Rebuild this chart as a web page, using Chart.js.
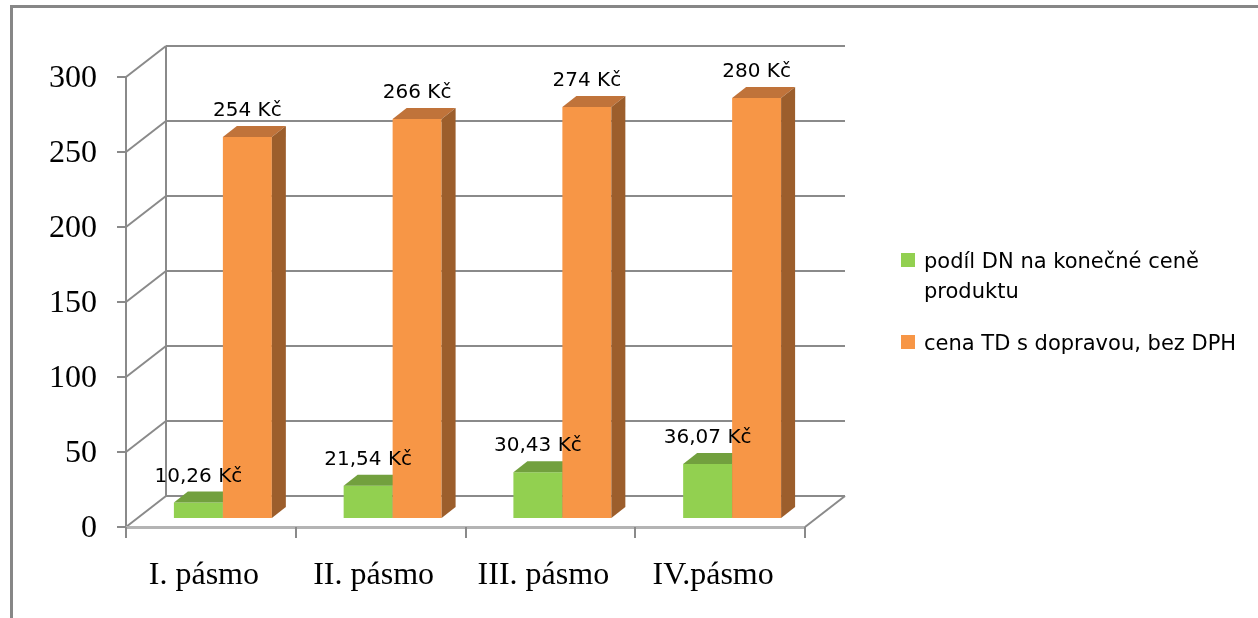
<!DOCTYPE html>
<html>
<head>
<meta charset="utf-8">
<title>Podíl DN na konečné ceně</title>
<script src="https://cdn.jsdelivr.net/npm/chart.js@4/dist/chart.umd.min.js"></script>
<style>
    html, body { margin: 0; padding: 0; background: #ffffff; }
    #chart { display: block; }
</style>
</head>
<body>
<canvas id="chart" width="1258" height="618"></canvas>
<script>
// Chart data
const categories = ['I. pásmo', 'II. pásmo', 'III. pásmo', 'IV.pásmo'];
const seriesNames = ['podíl DN na konečné ceně produktu', 'cena TD s dopravou, bez DPH'];
const shareDN = [10.26, 21.54, 30.43, 36.07];
const priceTD = [254, 266, 274, 280];
const yTicks = [0, 50, 100, 150, 200, 250, 300];

// 3D look: depth of the box walls and of the bars
const WALL = { dx: 40, dy: -31 };
const BAR_SHIFT = { dx: 12, dy: -9 };
const BAR_DEPTH = { dx: 14, dy: -11 };
const GRID_COLOR = '#8a8a8a';

const faceColors = [
    { front: '#92d050', top: '#72a03e', side: '#5f8a30' },
    { front: '#f79646', top: '#c0733a', side: '#9c5e2c' }
];

function line(ctx, x1, y1, x2, y2) {
    ctx.beginPath();
    ctx.moveTo(x1, y1);
    ctx.lineTo(x2, y2);
    ctx.stroke();
}

function formatKc(v) {
    const s = Number.isInteger(v) ? String(v) : v.toFixed(2).replace('.', ',');
    return s + ' Kč';
}

/**
 * Draws the walls, floor, grid and tick marks of the 3D box
 */
const boxPlugin = {
    id: 'box3d',
    beforeDatasetsDraw(chart) {
        const ctx = chart.ctx;
        const { left, right, top, bottom } = chart.chartArea;
        const y = chart.scales.y;
        const x = chart.scales.x;

        ctx.save();
        // outer frame (only top and left edges visible)
        ctx.strokeStyle = '#878787';
        ctx.lineWidth = 3;
        ctx.beginPath();
        ctx.moveTo(11.5, 618);
        ctx.lineTo(11.5, 6.5);
        ctx.lineTo(1258, 6.5);
        ctx.stroke();

        ctx.strokeStyle = GRID_COLOR;
        ctx.lineWidth = 2;
        yTicks.forEach(v => {
            const py = y.getPixelForValue(v);
            line(ctx, left, py, left + WALL.dx, py + WALL.dy);
            line(ctx, left + WALL.dx, py + WALL.dy, right + WALL.dx, py + WALL.dy);
            line(ctx, left - 9, py, left, py);
        });
        // left wall edges
        line(ctx, left, top, left, bottom);
        line(ctx, left + WALL.dx, top + WALL.dy, left + WALL.dx, bottom + WALL.dy);

        // floor
        ctx.strokeStyle = '#b4b4b4';
        ctx.lineWidth = 3;
        line(ctx, left, bottom + 0.5, right, bottom + 0.5);
        ctx.strokeStyle = GRID_COLOR;
        ctx.lineWidth = 2;
        line(ctx, right, bottom, right + WALL.dx, bottom + WALL.dy);

        // category tick marks
        for (let i = 0; i <= categories.length; i++) {
            const px = Math.round(x.getPixelForValue(i - 0.5));
            line(ctx, px, bottom, px, bottom + 11);
        }
        ctx.restore();
    }
};

/**
 * Draws the bars ourselves (series order, left to right), shifted into the box,
 * with top / side faces and value labels
 */
const barsPlugin = {
    id: 'bars3d',
    beforeDatasetDraw() {
        // skip the default pass, bars are drawn in afterDatasetsDraw
        return false;
    },
    afterDatasetsDraw(chart) {
        const ctx = chart.ctx;
        ctx.save();
        ctx.translate(BAR_SHIFT.dx, BAR_SHIFT.dy);

        chart.data.datasets.forEach((ds, i) => {
            const colors = faceColors[i];
            const meta = chart.getDatasetMeta(i);
            meta.data.forEach(bar => {
                const { x, y, base, width } = bar.getProps(['x', 'y', 'base', 'width'], true);
                const l = x - width / 2;
                const r = x + width / 2;
                bar.draw(ctx);
                ctx.fillStyle = colors.top;
                ctx.beginPath();
                ctx.moveTo(l, y);
                ctx.lineTo(l + BAR_DEPTH.dx, y + BAR_DEPTH.dy);
                ctx.lineTo(r + BAR_DEPTH.dx, y + BAR_DEPTH.dy);
                ctx.lineTo(r, y);
                ctx.closePath();
                ctx.fill();
                ctx.fillStyle = colors.side;
                ctx.beginPath();
                ctx.moveTo(r, y);
                ctx.lineTo(r + BAR_DEPTH.dx, y + BAR_DEPTH.dy);
                ctx.lineTo(r + BAR_DEPTH.dx, base + BAR_DEPTH.dy);
                ctx.lineTo(r, base);
                ctx.closePath();
                ctx.fill();
            });
        });

        // value labels on top of everything
        ctx.font = '20px "DejaVu Sans"';
        ctx.fillStyle = '#000000';
        ctx.textAlign = 'center';
        ctx.textBaseline = 'alphabetic';
        chart.data.datasets.forEach((ds, i) => {
            const meta = chart.getDatasetMeta(i);
            meta.data.forEach((bar, j) => {
                const { x, y } = bar.getProps(['x', 'y'], true);
                ctx.fillText(formatKc(ds.data[j]), x, y - 21);
            });
        });
        ctx.restore();
    }
};

/**
 * Legend on the right, with wrapped first label
 */
const legendPlugin = {
    id: 'sideLegend',
    afterDraw(chart) {
        const ctx = chart.ctx;
        const items = [
            { color: faceColors[0].front, lines: ['podíl DN na konečné ceně', 'produktu'], top: 253 },
            { color: faceColors[1].front, lines: ['cena TD s dopravou, bez DPH'], top: 335 }
        ];
        ctx.save();
        ctx.font = '21px "DejaVu Sans"';
        ctx.textAlign = 'left';
        ctx.textBaseline = 'alphabetic';
        items.forEach(item => {
            ctx.fillStyle = item.color;
            ctx.fillRect(901, item.top, 14, 14);
            ctx.fillStyle = '#000000';
            item.lines.forEach((t, k) => {
                ctx.fillText(t, 924, item.top + 15 + k * 30);
            });
        });
        ctx.restore();
    }
};

new Chart(document.getElementById('chart'), {
    type: 'bar',
    data: {
        labels: categories,
        datasets: [
            { label: seriesNames[0], data: shareDN, backgroundColor: faceColors[0].front },
            { label: seriesNames[1], data: priceTD, backgroundColor: faceColors[1].front }
        ]
    },
    options: {
        responsive: false,
        animation: false,
        devicePixelRatio: 1,
        layout: {
            padding: { left: 12, top: 77, right: 453, bottom: 0 }
        },
        datasets: {
            bar: {
                categoryPercentage: 0.577,
                barPercentage: 1,
                borderWidth: 0
            }
        },
        plugins: {
            legend: { display: false },
            tooltip: { enabled: false }
        },
        scales: {
            x: {
                grid: { display: false, drawTicks: false },
                border: { display: false },
                ticks: {
                    color: '#000000',
                    padding: 29,
                    labelOffset: -7,
                    font: { family: '"Liberation Serif"', size: 32 }
                },
                afterFit(scale) { scale.height = 91; }
            },
            y: {
                min: 0,
                max: 300,
                grid: { display: false, drawTicks: false },
                border: { display: false },
                ticks: {
                    stepSize: 50,
                    color: '#000000',
                    padding: 29,
                    labelOffset: 2,
                    font: { family: '"Liberation Serif"', size: 32 }
                },
                afterFit(scale) { scale.width = 114; }
            }
        }
    },
    plugins: [boxPlugin, barsPlugin, legendPlugin]
});
</script>
</body>
</html>
